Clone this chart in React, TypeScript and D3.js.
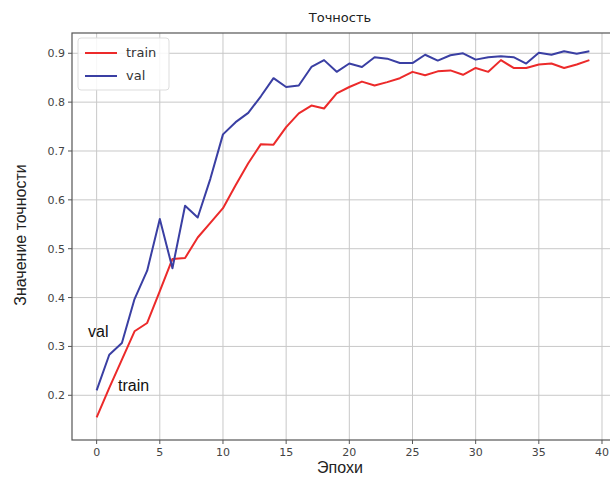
import React from "react";
import * as d3 from "d3";

const epochs: number[] = d3.range(40);
const trainAcc: number[] = [
  0.155, 0.215, 0.273, 0.331, 0.348, 0.413, 0.479, 0.481, 0.523, 0.553,
  0.583, 0.63, 0.675, 0.714, 0.713, 0.749, 0.777, 0.793, 0.787, 0.818,
  0.831, 0.842, 0.834, 0.841, 0.849, 0.862, 0.855, 0.863, 0.865, 0.856,
  0.870, 0.862, 0.886, 0.870, 0.870, 0.877, 0.879, 0.870, 0.877, 0.886,
];
const valAcc: number[] = [
  0.21, 0.283, 0.307, 0.397, 0.455, 0.561, 0.46, 0.588, 0.564, 0.643,
  0.734, 0.759, 0.778, 0.812, 0.849, 0.831, 0.834, 0.872, 0.886, 0.862,
  0.879, 0.872, 0.892, 0.889, 0.88, 0.88, 0.897, 0.885, 0.896, 0.9,
  0.887, 0.892, 0.894, 0.892, 0.879, 0.901, 0.897, 0.904, 0.899, 0.904,
];
const xTicks: number[] = [0, 5, 10, 15, 20, 25, 30, 35, 40];
const yTicks: number[] = [0.2, 0.3, 0.4, 0.5, 0.6, 0.7, 0.8, 0.9];
const seriesNames: string[] = ["train", "val"];
const seriesColors: string[] = ["#ec2a2a", "#3a3fa3"];

export default function App() {
  const W = 610, H = 477;
  const left = 72, right = 614, top = 33, bottom = 440;
  const x = d3.scaleLinear().domain([-1.95, 40.95]).range([left, right]);
  const y = d3.scaleLinear().domain([0.1085, 0.9415]).range([bottom, top]);
  const line = d3
    .line<[number, number]>()
    .x((d) => x(d[0]))
    .y((d) => y(d[1]));
  const data = [trainAcc, valAcc];
  const tickFont = "DejaVu Sans, sans-serif";
  const labelFont = "Liberation Sans, Arial, sans-serif";
  return (
    <div style={{ position: "absolute", left: 0, top: 0 }}>
      <svg width={W} height={H} style={{ display: "block", background: "#fff" }}>
        <defs>
          <clipPath id="plot">
            <rect x={left} y={top} width={right - left} height={bottom - top} />
          </clipPath>
        </defs>
        {/* grid */}
        {xTicks.map((t) => (
          <line key={"gx" + t} x1={x(t)} x2={x(t)} y1={top} y2={bottom} stroke="#c8c8c8" strokeWidth={1} />
        ))}
        {yTicks.map((t) => (
          <line key={"gy" + t} x1={left} x2={right} y1={y(t)} y2={y(t)} stroke="#c8c8c8" strokeWidth={1} />
        ))}
        {/* lines */}
        <g clipPath="url(#plot)">
          {data.map((s, k) => (
            <path
              key={seriesNames[k]}
              d={line(epochs.map((e, i) => [e, s[i]]) as [number, number][]) || ""}
              fill="none"
              stroke={seriesColors[k]}
              strokeWidth={2}
              strokeLinejoin="round"
            />
          ))}
        </g>
        {/* spines */}
        <rect x={left} y={top} width={right - left} height={bottom - top} fill="none" stroke="#555" strokeWidth={1.2} />
        {/* x ticks */}
        {xTicks.map((t) => (
          <g key={"xt" + t}>
            <line x1={x(t)} x2={x(t)} y1={bottom} y2={bottom + 4} stroke="#555" />
            <text x={x(t)} y={bottom + 16} textAnchor="middle" fontFamily={tickFont} fontSize={11} fill="#444">
              {t}
            </text>
          </g>
        ))}
        {/* y ticks */}
        {yTicks.map((t) => (
          <g key={"yt" + t}>
            <line x1={left - 4} x2={left} y1={y(t)} y2={y(t)} stroke="#555" />
            <text x={left - 7} y={y(t) + 4} textAnchor="end" fontFamily={tickFont} fontSize={11} fill="#444">
              {t.toFixed(1)}
            </text>
          </g>
        ))}
        {/* title and labels */}
        <text x={340} y={22} textAnchor="middle" fontFamily={tickFont} fontSize={13} fill="#222">
          Точность
        </text>
        <text x={340} y={473} textAnchor="middle" fontFamily={labelFont} fontSize={16} fill="#222">
          Эпохи
        </text>
        <text
          transform={`translate(26, 235) rotate(-90)`}
          textAnchor="middle"
          fontFamily={labelFont}
          fontSize={16}
          fill="#222"
        >
          Значение точности
        </text>
        {/* legend */}
        <rect x={78} y={38} width={91} height={52} rx={3} fill="#fff" fillOpacity={0.85} stroke="#ddd" />
        {seriesNames.map((n, k) => (
          <g key={"lg" + n}>
            <line x1={85} x2={117} y1={53 + k * 23} y2={53 + k * 23} stroke={seriesColors[k]} strokeWidth={2} />
            <text x={126} y={57 + k * 23} fontFamily={tickFont} fontSize={13} fill="#333">
              {n}
            </text>
          </g>
        ))}
        {/* annotations */}
        <text x={88} y={337} fontFamily={labelFont} fontSize={16} fill="#111">
          val
        </text>
        <text x={118} y={391} fontFamily={labelFont} fontSize={16} fill="#111">
          train
        </text>
      </svg>
    </div>
  );
}
